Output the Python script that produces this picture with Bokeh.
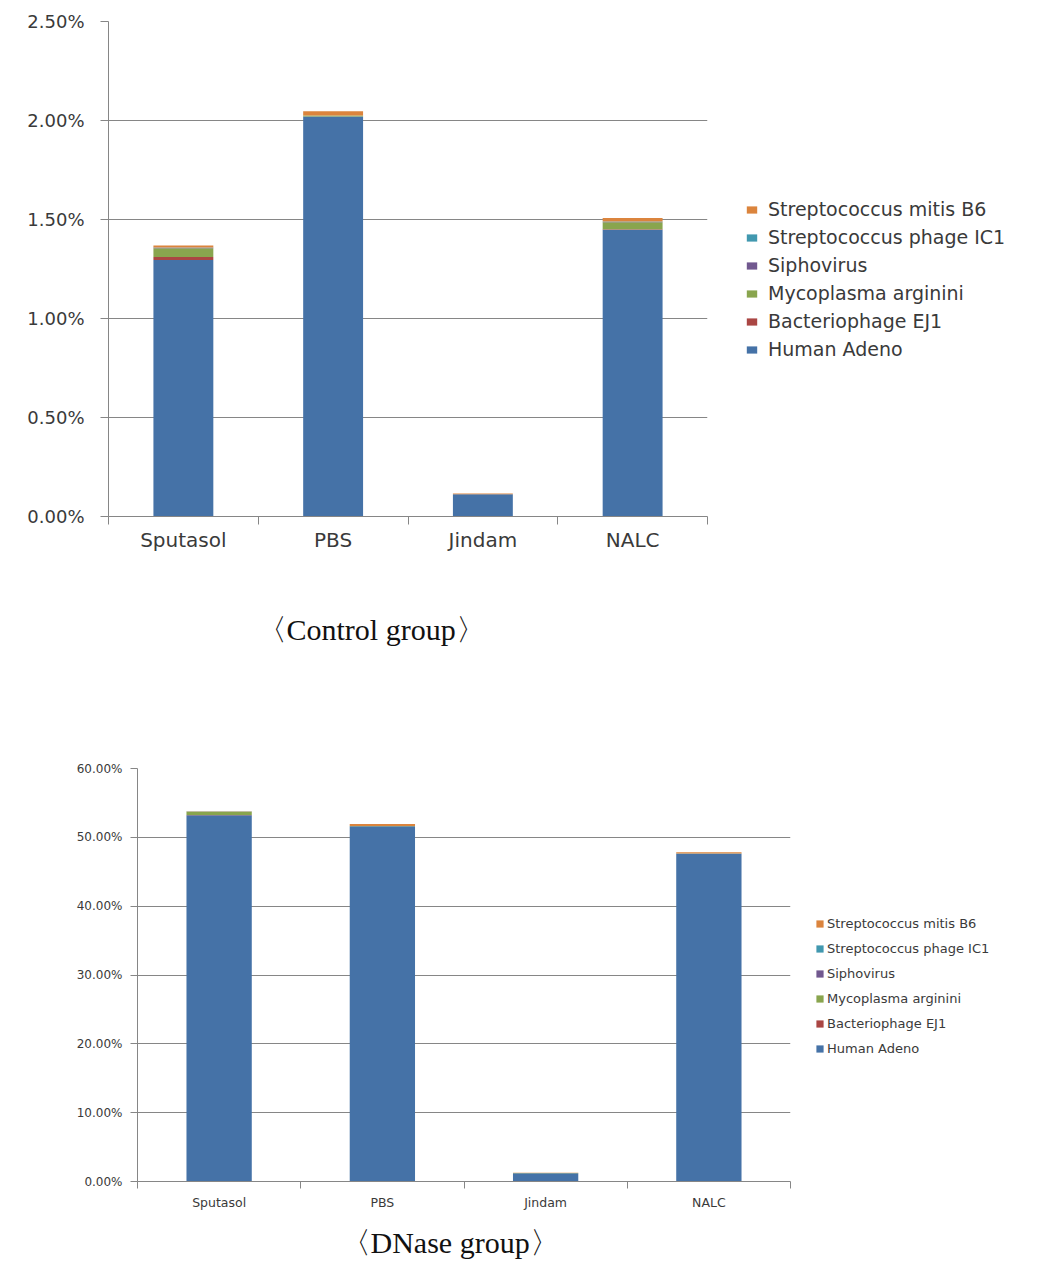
from bokeh.plotting import figure
from bokeh.models import (ColumnDataSource, FixedTicker, PrintfTickFormatter, Legend,
                          LegendItem, Title, Range1d)
from bokeh.layouts import column, row
from bokeh.embed import file_html
from bokeh.resources import INLINE

categories = ["Sputasol", "PBS", "Jindam", "NALC"]
series_names = ["Human Adeno", "Bacteriophage EJ1", "Mycoplasma arginini",
                "Siphovirus", "Streptococcus phage IC1", "Streptococcus mitis B6"]
series_colors = ["#4572A7", "#AA4643", "#89A54E", "#71588F", "#4198AF", "#DB843D"]

# Control group (values in %)
ctrl_human_adeno = [1.295, 2.020, 0.113, 1.448]
ctrl_bacteriophage_ej1 = [0.015, 0.000, 0.000, 0.003]
ctrl_mycoplasma_arginini = [0.045, 0.005, 0.000, 0.035]
ctrl_siphovirus = [0.002, 0.000, 0.000, 0.002]
ctrl_strep_phage_ic1 = [0.002, 0.000, 0.000, 0.002]
ctrl_strep_mitis_b6 = [0.010, 0.022, 0.003, 0.018]
ctrl_y_ticks = [0.0, 0.5, 1.0, 1.5, 2.0, 2.5]

# DNase group (values in %)
dnase_human_adeno = [53.2, 51.6, 1.20, 47.6]
dnase_bacteriophage_ej1 = [0.05, 0.02, 0.00, 0.05]
dnase_mycoplasma_arginini = [0.45, 0.03, 0.02, 0.02]
dnase_siphovirus = [0.02, 0.00, 0.00, 0.00]
dnase_strep_phage_ic1 = [0.02, 0.00, 0.00, 0.00]
dnase_strep_mitis_b6 = [0.06, 0.28, 0.05, 0.15]
dnase_y_ticks = [0, 10, 20, 30, 40, 50, 60]

AXIS_COLOR = "#868686"
TEXT_COLOR = "#3a3a3a"
FONT = "DejaVu Sans"


def make_source(series_values):
    n = len(categories)
    data = {"x": [i + 0.5 for i in range(n)]}
    for name, vals in zip(series_names, series_values):
        data[name] = vals
    return ColumnDataSource(data)


def make_chart(series_values, y_ticks, fmt, size, borders, tick_font, cat_font,
               caption, caption_geom, tick_out, y_standoff, x_standoff):
    width, height = size
    left, right, top, bottom = borders
    n = len(categories)
    xs = [i + 0.5 for i in range(n)]
    src = make_source(series_values)

    p = figure(width=width, height=height, output_backend="svg", toolbar_location=None,
               x_range=Range1d(0, n), y_range=Range1d(y_ticks[0], y_ticks[-1]),
               min_border_left=left, min_border_right=right,
               min_border_top=top, min_border_bottom=bottom)
    p.outline_line_color = None
    p.background_fill_color = "white"

    p.vbar_stack(series_names, x="x", width=0.4, source=src,
                 color=series_colors, line_color=None)

    # x axis
    p.xaxis.ticker = FixedTicker(ticks=xs, minor_ticks=list(range(n + 1)))
    p.xaxis.major_label_overrides = {x: c for x, c in zip(xs, categories)}
    p.xaxis.major_tick_out = 0
    p.xaxis.major_tick_in = 0
    p.xaxis.minor_tick_out = tick_out
    p.xaxis.minor_tick_in = 0
    p.xaxis.minor_tick_line_color = AXIS_COLOR
    p.xaxis.axis_line_color = AXIS_COLOR
    p.xaxis.major_label_text_font = FONT
    p.xaxis.major_label_text_font_size = cat_font
    p.xaxis.major_label_text_color = TEXT_COLOR
    p.xaxis.major_label_standoff = x_standoff
    p.xgrid.grid_line_color = None

    # y axis
    p.yaxis.ticker = FixedTicker(ticks=y_ticks)
    p.yaxis.formatter = PrintfTickFormatter(format=fmt)
    p.yaxis.major_tick_out = tick_out
    p.yaxis.major_tick_in = 0
    p.yaxis.minor_tick_line_color = None
    p.yaxis.axis_line_color = AXIS_COLOR
    p.yaxis.major_tick_line_color = AXIS_COLOR
    p.yaxis.major_label_text_font = FONT
    p.yaxis.major_label_text_font_size = tick_font
    p.yaxis.major_label_text_color = TEXT_COLOR
    p.yaxis.major_label_standoff = y_standoff
    p.ygrid.grid_line_color = AXIS_COLOR
    p.ygrid.grid_line_width = 1

    c_offset, c_standoff, c_size = caption_geom
    p.add_layout(Title(text=caption, align="left", offset=c_offset,
                       standoff=c_standoff, text_font="Liberation Serif",
                       text_font_size=c_size, text_font_style="normal",
                       text_color="#111111"), "below")
    return p


def make_legend_fig(series_values, size, legend_font, legend_geom):
    width, height = size
    src = make_source(series_values)
    lf = figure(width=width, height=height, output_backend="svg", toolbar_location=None,
                x_range=Range1d(-20, -19), y_range=Range1d(0, 1),
                x_axis_type=None, y_axis_type=None, min_border=0)
    lf.outline_line_color = None
    lf.grid.grid_line_color = None
    # same stacked bars (kept out of view) so that the legend has its renderers
    renderers = lf.vbar_stack(series_names, x="x", width=0.4, source=src,
                              color=series_colors, line_color=None)
    lx, ly, label_h, glyph_w, glyph_h, spacing, standoff = legend_geom
    items = [LegendItem(label=name, renderers=[r])
             for name, r in zip(series_names, renderers)][::-1]
    legend = Legend(items=items, location=(lx, ly), margin=0, padding=0,
                    border_line_color=None, background_fill_alpha=0,
                    label_text_font=FONT, label_text_font_size=legend_font,
                    label_text_color=TEXT_COLOR, label_height=label_h,
                    glyph_width=glyph_w, glyph_height=glyph_h, spacing=spacing,
                    label_standoff=standoff)
    lf.add_layout(legend, "center")
    return lf


ctrl_values = [ctrl_human_adeno, ctrl_bacteriophage_ej1, ctrl_mycoplasma_arginini,
               ctrl_siphovirus, ctrl_strep_phage_ic1, ctrl_strep_mitis_b6]
dnase_values = [dnase_human_adeno, dnase_bacteriophage_ej1, dnase_mycoplasma_arginini,
                dnase_siphovirus, dnase_strep_phage_ic1, dnase_strep_mitis_b6]

top_chart = make_chart(ctrl_values, ctrl_y_ticks, "%.2f%%", (745, 704),
                       (108, 38, 21, 188), "18px", "20px",
                       "〈Control  group〉", (148, 113, "30px"), 8, 16, 3)
top_legend = make_legend_fig(ctrl_values, (308, 704), "19px",
                             (0, 344, 22, 13, 9, 6, 10))

bottom_chart = make_chart(dnase_values, dnase_y_ticks, "%.2f%%", (815, 568),
                          (137, 25, 64, 91), "12px", "12.5px",
                          "〈DNase  group〉", (203, 23, "30px"), 7, 8, 6)
bottom_legend = make_legend_fig(dnase_values, (238, 568), "13px",
                                (0, 216, 16, 9, 9, 9, 3))

layout = column(row(row(top_chart), row(top_legend), spacing=0),
                row(row(bottom_chart), row(bottom_legend), spacing=0), spacing=0)
open("out.html", "w").write(file_html(layout, INLINE))
